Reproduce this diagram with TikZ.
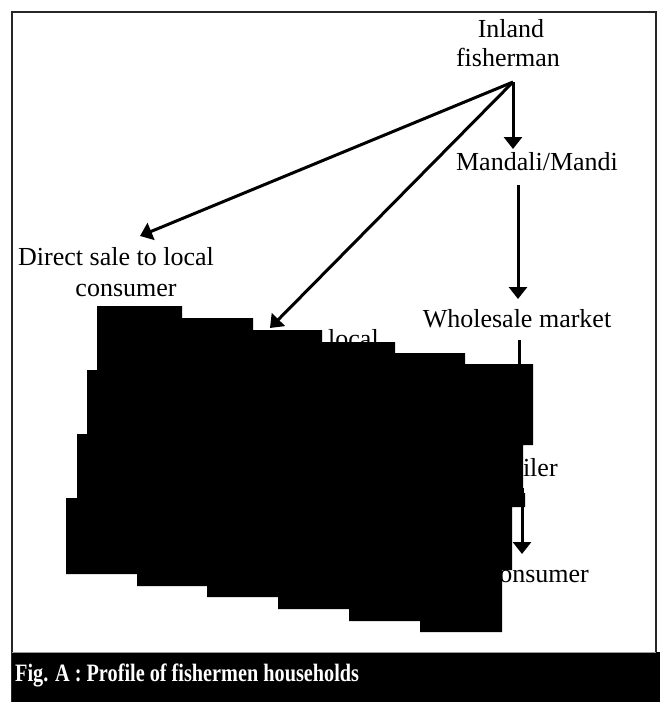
\documentclass[tikz,border=0pt]{standalone}
\usepackage{fontspec}
\setmainfont{Liberation Serif}
\usetikzlibrary{arrows.meta}
\begin{document}
\begin{tikzpicture}[x=1pt,y=-1pt,
  lbl/.style={font=\fontsize{26}{30}\selectfont, inner sep=0pt, anchor=base},
  arr/.style={line width=3pt, -{Triangle[length=12pt,width=18pt]}},
  ln/.style={line width=3pt},
  blob/.style={fill=black},
  frame/.style={draw=black!85, line width=1.6pt}]
\useasboundingbox (0,0) rectangle (660,702);
\fill[white] (0,0) rectangle (660,702);
\draw[frame] (12,12) rectangle (656,702);

% texts
\node[lbl] (inland) at (511,37) {Inland};
\node[lbl] (fisher) at (508,66) {fisherman};
\node[lbl] (mandi) at (537,170) {Mandali/Mandi};
\node[lbl] (whole) at (517,327) {Wholesale market};
\node[lbl] (direct1) at (116,265) {Direct sale to local};
\node[lbl] (direct2) at (126,296) {consumer};
\node[lbl, anchor=base west] (localtxt) at (328,347) {local};
\node[lbl] (retail) at (516.5,476) {Retailer};
\node[lbl, anchor=base east] (cons) at (589,582) {Consumer};

% connector ends
\coordinate (apex) at (513,82);
\coordinate (tipMandi) at (513,149);
\coordinate (tipDirect) at (140,236);
\coordinate (tipHidden) at (270,328);
\coordinate (mandiOut) at (518,185);
\coordinate (tipWhole) at (518,299);
\coordinate (wholeOut) at (519,340);
\coordinate (hiddenIn) at (519,372);
\coordinate (retailOut) at (522,488);
\coordinate (tipCons) at (522,554);

\draw[arr] (apex) -- (tipMandi);
\draw[arr] (apex) -- (tipDirect);
\draw[arr] (apex) -- (tipHidden);
\draw[arr] (mandiOut) -- (tipWhole);
\draw[ln] (wholeOut) -- (hiddenIn);
\draw[arr] (retailOut) -- (tipCons);

% black mask
\fill[blob] (97,306) -- (182,306) -- (182,318) -- (253,318) -- (253,330) -- (322,330)
  -- (322,342) -- (395,342) -- (395,353) -- (465,353) -- (465,364) -- (533,364)
  -- (533,445) -- (523,445) -- (523,493) -- (525,493) -- (525,507) -- (512,507)
  -- (512,570) -- (502,570) -- (502,632) -- (420,632) -- (420,621) -- (349,621)
  -- (349,609) -- (278,609) -- (278,597) -- (207,597) -- (207,586) -- (137,586)
  -- (137,574) -- (66,574) -- (66,498) -- (77,498) -- (77,434) -- (87,434)
  -- (87,370) -- (97,370) -- cycle;

% caption bar
\fill[black] (12,652) rectangle (660,702);
\draw[black!40, line width=0.8pt] (12,652) -- (656,652);
\node[font=\bfseries\fontsize{25}{28}\selectfont, text=white, anchor=base west, inner sep=0pt] (cap) at (15,681)
  {\scalebox{0.81}[1]{Fig. A : Profile of fishermen households}};
\end{tikzpicture}
\end{document}
